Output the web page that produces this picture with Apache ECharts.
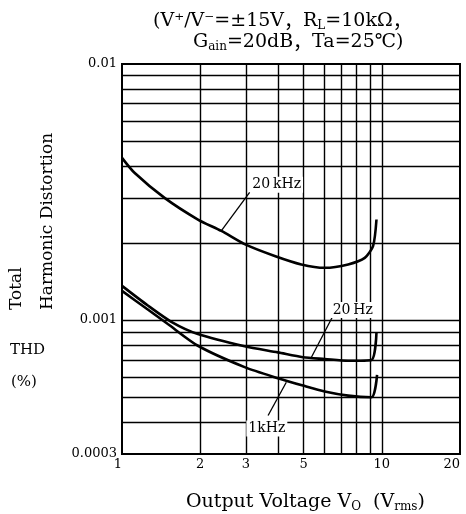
<!DOCTYPE html>
<html>
<head>
<meta charset="utf-8">
<script src="https://cdn.jsdelivr.net/npm/echarts@6/dist/echarts.min.js"></script>
<style>
html, body { margin: 0; padding: 0; background: #fff; }
#main { width: 466px; height: 514px; }
</style>
</head>
<body>
<div id="main"></div>
<script>
var xTickLabels = [1, 2, 3, 5, 10, 20];
var yTickLabels = [0.0003, 0.001, 0.01];
var xGridValues = [2, 3, 4, 5, 6, 7, 8, 9, 10];
var yGridValues = [0.0004, 0.0005, 0.0006, 0.0007, 0.0008, 0.0009, 0.001,
                   0.002, 0.003, 0.004, 0.005, 0.006, 0.007, 0.008, 0.009];

// 20kHz
var vo20k  = [1.0, 1.117, 1.458, 1.96, 2.412, 2.965, 3.87, 4.90, 6.03, 7.42, 8.60, 9.26, 9.54];
var thd20k = [0.00430, 0.00376, 0.00300, 0.00247, 0.00223, 0.00198, 0.00178, 0.00165, 0.00160, 0.00165, 0.00175, 0.00195, 0.00247];
// 20Hz
var vo20   = [1.0, 1.257, 1.548, 1.96, 2.965, 3.98, 4.97, 6.03, 7.42, 9.13, 9.54];
var thd20  = [0.00136, 0.00114, 0.000985, 0.000882, 0.00079, 0.000748, 0.000716, 0.000705, 0.000694, 0.000699, 0.000896];
// 1kHz
var vo1k   = [1.0, 1.257, 1.501, 1.96, 2.965, 3.98, 4.97, 6.03, 7.42, 9.13, 9.59];
var thd1k  = [0.0013, 0.0011, 0.000965, 0.000794, 0.000655, 0.000593, 0.000555, 0.000526, 0.000507, 0.0005, 0.000611];

var curveNames = ['20\u2009kHz', '20\u2009Hz', '1kHz'];
var labelAt     = [[3.94, 0.00338], [7.73, 0.001094], [3.61, 0.000377]];
var pointerFrom = [[3.10, 0.00315], [6.49, 0.00104], [3.65, 0.000424]];
var pointerTo   = [[2.41, 0.00223], [5.36, 0.000716], [4.29, 0.000572]];

var serif = '"DejaVu Serif", "Liberation Serif", "Noto Sans CJK JP", serif';
var cjk = '"Noto Sans CJK JP", "DejaVu Serif", serif';

function zip(xs, ys) {
    return xs.map(function (x, i) { return [x, ys[i]]; });
}

function curve(idx, xs, ys) {
    return {
        name: curveNames[idx],
        type: 'line',
        data: zip(xs, ys),
        showSymbol: false,
        smooth: 0.25,
        lineStyle: { color: '#000', width: 2.6 },
        markLine: {
            silent: true,
            symbol: 'none',
            label: { show: false },
            lineStyle: { color: '#000', width: 1.3, type: 'solid' },
            data: [[{ coord: pointerFrom[idx] }, { coord: pointerTo[idx] }]]
        },
        markPoint: {
            silent: true,
            symbol: 'rect',
            symbolSize: 1,
            itemStyle: { color: 'rgba(0,0,0,0)' },
            label: {
                show: true,
                position: 'inside',
                color: '#000',
                fontFamily: serif,
                fontSize: 14,
                backgroundColor: '#fff',
                padding: [1, 2],
                formatter: curveNames[idx]
            },
            data: [{ coord: labelAt[idx] }]
        }
    };
}

function titleStyle(size, subSize, lh) {
    return {
        fontFamily: serif, fontSize: size, fontWeight: 'normal', color: '#000', lineHeight: lh,
        rich: {
            s: { fontFamily: serif, fontSize: subSize, verticalAlign: 'bottom', lineHeight: lh },
            p: { fontFamily: cjk, fontSize: size, lineHeight: lh }
        }
    };
}

var chart = echarts.init(document.getElementById('main'));

var option = {
    animation: false,
    backgroundColor: '#fff',
    title: [
        {
            text: '(V⁺/V⁻=±15V{p|，}R{s|L}=10kΩ{p|，}',
            left: 148, top: 5,
            textStyle: titleStyle(19, 12, 22)
        },
        {
            text: 'G{s|ain}=20dB{p|，}Ta=25℃)',
            left: 188, top: 26,
            textStyle: titleStyle(19, 12, 22)
        },
        {
            text: 'Output Voltage V{s|O}  (V{s|rms})',
            left: 181, top: 486,
            textStyle: titleStyle(19, 12, 22)
        }
    ],
    graphic: [
        { type: 'text', x: 17, y: 310, rotation: Math.PI / 2,
          style: { text: 'Total', font: '17px ' + serif, fill: '#000', textAlign: 'left', textVerticalAlign: 'middle' } },
        { type: 'text', x: 48, y: 310, rotation: Math.PI / 2,
          style: { text: 'Harmonic Distortion', font: '17px ' + serif, fill: '#000', textAlign: 'left', textVerticalAlign: 'middle' } },
        { type: 'text', x: 10, y: 350,
          style: { text: 'THD', font: '15px ' + serif, fill: '#000', textAlign: 'left', textVerticalAlign: 'middle' } },
        { type: 'text', x: 11, y: 382,
          style: { text: '(%)', font: '15px ' + serif, fill: '#000', textAlign: 'left', textVerticalAlign: 'middle' } }
    ],
    grid: {
        left: 122, right: 6, top: 64, bottom: 60,
        outerBoundsMode: 'none',
        show: true, borderColor: '#000', borderWidth: 2, backgroundColor: '#fff'
    },
    xAxis: {
        type: 'log', logBase: 10, min: 1, max: 20,
        axisLine: { show: false },
        axisTick: { show: false, customValues: xGridValues },
        splitLine: { show: true, lineStyle: { color: '#000', width: 1.4 } },
        axisLabel: {
            customValues: xTickLabels, color: '#000', fontFamily: serif, fontSize: 13, margin: 4,
            alignMinLabel: 'right', alignMaxLabel: 'right',
            formatter: function (v) { return String(+(+v).toPrecision(3)); }
        }
    },
    yAxis: {
        type: 'log', logBase: 10, min: 0.0003, max: 0.01,
        axisLine: { show: false },
        axisTick: { show: false, customValues: yGridValues },
        splitLine: { show: true, lineStyle: { color: '#000', width: 1.4 } },
        axisLabel: {
            customValues: yTickLabels, color: '#000', fontFamily: serif, fontSize: 13, margin: 5,
            formatter: function (v) { return String(+(+v).toPrecision(3)); }
        }
    },
    series: [
        curve(0, vo20k, thd20k),
        curve(1, vo20, thd20),
        curve(2, vo1k, thd1k)
    ]
};

chart.setOption(option);
</script>
</body>
</html>
